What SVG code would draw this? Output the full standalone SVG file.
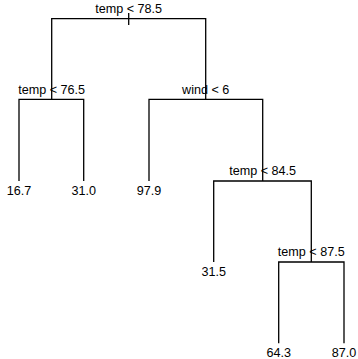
<svg xmlns="http://www.w3.org/2000/svg" width="358" height="359" viewBox="0 0 358 359">
<style>
.e{fill:none;stroke:#000;stroke-width:1.3}
text{font-family:"Liberation Sans",Arial,sans-serif;font-size:12.6px;fill:#000;text-anchor:middle}
</style>
<rect width="358" height="359" fill="#fff"/>
<g id="connectors">
<path class="e" d="M128.7,13V25"/>
<path class="e" d="M51.7,99.3V18.7H205.7V99.3"/>
<path class="e" d="M19,181V99.3H83.7V181"/>
<path class="e" d="M149,181V99.3H262.7V181"/>
<path class="e" d="M213.7,262V181H311.3V262"/>
<path class="e" d="M278.7,343.3V262H344V343.3"/>
</g>
<g id="n1"><text x="128.7" y="13">temp &lt; 78.5</text></g>
<g id="n2"><text x="51.7" y="94">temp &lt; 76.5</text></g>
<g id="n3"><text x="205.7" y="94">wind &lt; 6</text></g>
<g id="l1"><text x="19" y="194.5">16.7</text></g>
<g id="l2"><text x="83.7" y="194.5">31.0</text></g>
<g id="l3"><text x="149" y="194.5">97.9</text></g>
<g id="n4"><text x="262.7" y="175">temp &lt; 84.5</text></g>
<g id="l4"><text x="213.7" y="276">31.5</text></g>
<g id="n5"><text x="311.3" y="256">temp &lt; 87.5</text></g>
<g id="l5"><text x="278.7" y="357">64.3</text></g>
<g id="l6"><text x="344" y="357">87.0</text></g>
</svg>
